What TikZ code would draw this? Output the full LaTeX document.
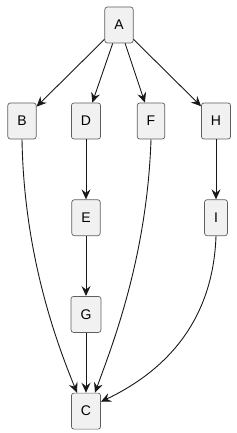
\documentclass[tikz,border=0pt]{standalone}
\usepackage{fontspec}
\setmainfont{Liberation Sans}
\usetikzlibrary{arrows.meta,positioning}
\definecolor{boxfill}{HTML}{F1F1F1}
\definecolor{boxline}{HTML}{5F5F5F}
\definecolor{edgeink}{HTML}{181818}
\tikzset{
    box/.style={
        draw=boxline,
        fill=boxfill,
        rounded corners=2.5pt,
        line width=0.7pt,
        minimum height=36pt,
        inner xsep=9.5pt,
        font=\fontsize{14}{16}\selectfont
    },
    flow/.style={-{Stealth[length=10pt,width=9pt,inset=3.5pt]}, draw=edgeink, line width=0.9pt}
}

\begin{document}
\begin{tikzpicture}[x=1pt, y=-1pt, node distance=60pt and 30pt]
        \useasboundingbox (0,0) rectangle (237,433);
        \node[box] (A) at (119,25) {A};
        \node[box] (B) at (22,121) {B};
        \node[box] (D) at (86,121) {D};
        \node[box] (F) at (151,121) {F};
        \node[box] (H) at (216,121) {H};
        \node[box, below=of D] (E) {E};
        \node[box, below=of H] (I) {I};
        \node[box, below=of E] (G) {G};
        \node[box, below=of G] (C) {C};

        \draw[flow] (A) -- (B);
        \draw[flow] (A) -- (D);
        \draw[flow] (A) -- (F);
        \draw[flow] (A) -- (H);
        \draw[flow] (D) -- (E);
        \draw[flow] (H) -- (I);
        \draw[flow] (E) -- (G);
        \draw[flow] (G) -- (C);
        \draw[flow] (B.south) .. controls +(2,121) and +(-17,-42) .. ([xshift=-9pt]C.north);
        \draw[flow] (F.south) .. controls +(-4,121) and +(15,-42) .. ([xshift=9pt]C.north);
        \draw[flow] (I.south) .. controls +(-3,85) and +(65,-31) .. ([yshift=-9pt]C.north east);
    \end{tikzpicture}
\end{document}
